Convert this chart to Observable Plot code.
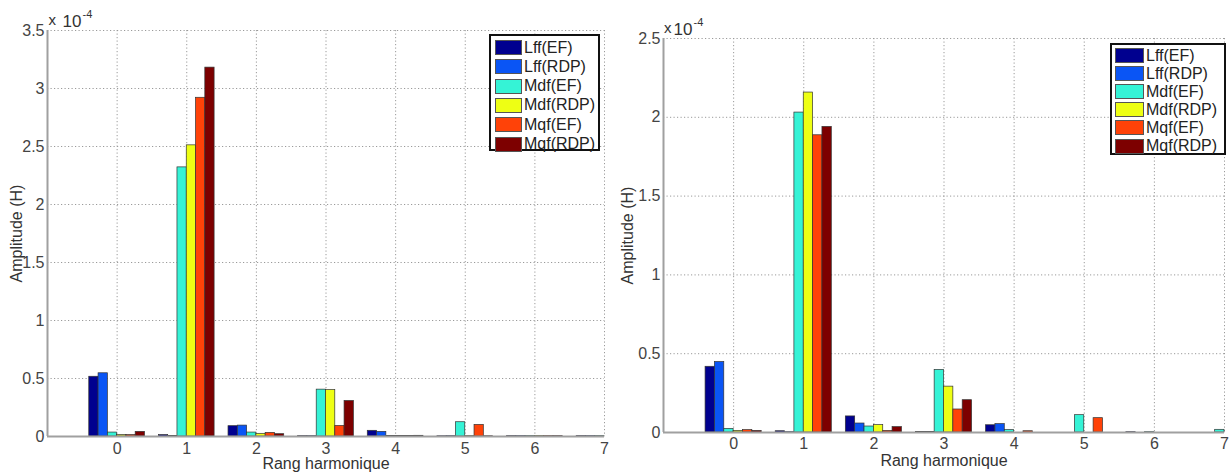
<!DOCTYPE html>
<html>
<head>
<meta charset="utf-8">
<script src="https://cdn.jsdelivr.net/npm/d3@7"></script>
<script src="https://cdn.jsdelivr.net/npm/@observablehq/plot@0.6"></script>
<style>
  body { margin: 0; background: #fff; font-family: "Liberation Sans", Arial, sans-serif; }
  #wrap { position: relative; width: 1230px; height: 472px; overflow: hidden; background: #fff; }
  .panel { position: absolute; top: 0; }
  .legend { position: absolute; background: #fff; border: 2px solid #111; box-sizing: border-box; }
  .legend .row { position: absolute; left: 0; display: flex; align-items: center; font-size: 16px; color: #222; white-space: nowrap; }
  .legend .sw { box-sizing: border-box; border: 1px solid #555; margin-right: 2px; }
</style>
</head>
<body>
<div id="wrap"></div>
<script>
// ---- data (amplitudes in units of 1e-4 H) ----
const series = ["Lff(EF)", "Lff(RDP)", "Mdf(EF)", "Mdf(RDP)", "Mqf(EF)", "Mqf(RDP)"];
const seriesColors = ["#00008f", "#0a55f5", "#35f3d6", "#eeff14", "#ff4208", "#7d0000"];
const harmonics = [0, 1, 2, 3, 4, 5, 6, 7];
const xTicks = [0, 1, 2, 3, 4, 5, 6, 7];
const leftYTicks = [0, 0.5, 1, 1.5, 2, 2.5, 3, 3.5];
const rightYTicks = [0, 0.5, 1, 1.5, 2, 2.5];
const xLabel = "Rang harmonique";
const yLabel = "Amplitude (H)";
const exponentBase = "10";
const exponentPower = "-4";

// left chart
const leftLffEF  = [0.515, 0.012, 0.089, 0.003, 0.049, 0.002, 0.003, 0.003];
const leftLffRDP = [0.545, 0.005, 0.094, 0.003, 0.040, 0.003, 0.003, 0.003];
const leftMdfEF  = [0.034, 2.32, 0.034, 0.404, 0.005, 0.123, 0.003, 0.003];
const leftMdfRDP = [0.012, 2.51, 0.023, 0.400, 0.004, 0.003, 0.003, 0.003];
const leftMqfEF  = [0.012, 2.92, 0.031, 0.091, 0.004, 0.100, 0.003, 0.003];
const leftMqfRDP = [0.040, 3.18, 0.020, 0.306, 0.006, 0.002, 0.003, 0.003];

// right chart
const rightLffEF  = [0.417, 0.008, 0.102, 0.003, 0.046, 0, 0.002, 0];
const rightLffRDP = [0.447, 0.002, 0.057, 0.003, 0.053, 0, 0, 0];
const rightMdfEF  = [0.023, 2.03, 0.038, 0.397, 0.015, 0.110, 0.002, 0.017];
const rightMdfRDP = [0.010, 2.157, 0.047, 0.291, 0, 0, 0, 0];
const rightMqfEF  = [0.015, 1.886, 0.010, 0.146, 0.008, 0.091, 0, 0];
const rightMqfRDP = [0.010, 1.939, 0.034, 0.205, 0, 0, 0, 0];

const leftSeries = [leftLffEF, leftLffRDP, leftMdfEF, leftMdfRDP, leftMqfEF, leftMqfRDP];
const rightSeries = [rightLffEF, rightLffRDP, rightMdfEF, rightMdfRDP, rightMqfEF, rightMqfRDP];

// grouped-bar layout (MATLAB style: group width 0.8)
const groupWidth = 0.8;
const slot = groupWidth / series.length;

function rows(arrays) {
  const out = [];
  arrays.forEach((vals, i) => {
    harmonics.forEach((h, k) => {
      const x1 = h - groupWidth / 2 + i * slot;
      out.push({h, s: series[i], i, v: vals[k], x1, x2: x1 + slot});
    });
  });
  return out.filter(d => d.v > 0 && d.x2 <= 7.0001);
}

function panel(arrays, yTicks, o) {
  const data = rows(arrays);
  return Plot.plot({
    width: 615,
    height: 472,
    marginLeft: o.ml, marginRight: o.mr, marginTop: o.mt, marginBottom: o.mb,
    style: {fontFamily: "'Liberation Sans', Arial, sans-serif", fontSize: "16px", color: "#444", background: "transparent", overflow: "visible"},
    x: {domain: [-1, 7]},
    y: {domain: [0, yTicks[yTicks.length - 1]]},
    color: {domain: series, range: seriesColors},
    marks: [
      Plot.ruleX(xTicks, {stroke: "#9a9a9a", strokeWidth: 1, strokeDasharray: "1.2,2.3"}),
      Plot.ruleY(yTicks.filter(t => t > 0), {stroke: "#9a9a9a", strokeWidth: 1, strokeDasharray: "1.2,2.3"}),
      Plot.rect(data, {x1: "x1", x2: "x2", y1: 0, y2: "v", fill: "s", stroke: "#333", strokeWidth: 0.7}),
      Plot.ruleX([-1], {stroke: "#a0a0a0", strokeWidth: 2}),
      Plot.ruleY([0], {stroke: "#a0a0a0", strokeWidth: 2}),
      Plot.axisX({ticks: xTicks, tickSize: 0, tickPadding: o.xpad, label: null, tickFormat: d => String(d), fontSize: 16, fill: "#444"}),
      Plot.axisY({ticks: yTicks, tickSize: 0, tickPadding: 3, label: null, tickFormat: d => String(d), fontSize: 16, fill: "#444"}),
      Plot.text([xLabel], {frameAnchor: "bottom", dy: o.xlab, lineAnchor: "middle", fontSize: 16, fill: "#333"}),
      Plot.text([yLabel], {frameAnchor: "left", dx: o.ylab, rotate: -90, lineAnchor: "middle", textAnchor: "middle", fontSize: 16, fill: "#333"}),
      Plot.text(["x"], {frameAnchor: "top-left", dx: o.ex[0], dy: -10, textAnchor: "start", lineAnchor: "middle", fontSize: 15, fill: "#333"}),
      Plot.text([exponentBase], {frameAnchor: "top-left", dx: o.ex[1], dy: -9, textAnchor: "start", lineAnchor: "middle", fontSize: 17, fill: "#333"}),
      Plot.text([exponentPower], {frameAnchor: "top-left", dx: o.ex[2], dy: -16, textAnchor: "start", lineAnchor: "middle", fontSize: 11, fill: "#333"})
    ]
  });
}

const wrap = document.getElementById("wrap");

function place(node, left) {
  const d = document.createElement("div");
  d.className = "panel";
  d.style.left = left + "px";
  d.appendChild(node);
  wrap.appendChild(d);
}

place(panel(leftSeries, leftYTicks, {ml: 47, mr: 11, mt: 30, mb: 36, xpad: 6, xlab: 27, ylab: -31, ex: [1, 15, 35]}), 0);
place(panel(rightSeries, rightYTicks, {ml: 48, mr: 6, mt: 38, mb: 40, xpad: 5, xlab: 28, ylab: -36, ex: [0.5, 10, 30]}), 615);

function legend(left, top, w, h, rowTop, rowStep, swW, swH, padL) {
  const lg = document.createElement("div");
  lg.className = "legend";
  Object.assign(lg.style, {left: left + "px", top: top + "px", width: w + "px", height: h + "px"});
  series.forEach((s, i) => {
    const r = document.createElement("div");
    r.className = "row";
    r.style.top = (rowTop + i * rowStep - 10) + "px";
    r.style.height = "20px";
    r.style.left = padL + "px";
    const sw = document.createElement("div");
    sw.className = "sw";
    Object.assign(sw.style, {width: swW + "px", height: swH + "px", background: seriesColors[i]});
    const t = document.createElement("span");
    t.textContent = s;
    r.appendChild(sw);
    r.appendChild(t);
    lg.appendChild(r);
  });
  wrap.appendChild(lg);
}

legend(489, 34, 111, 117, 11.5, 19.3, 27, 15, 4);
legend(1110, 43, 116, 112, 10.5, 18.1, 29, 15, 3);
</script>
</body>
</html>
